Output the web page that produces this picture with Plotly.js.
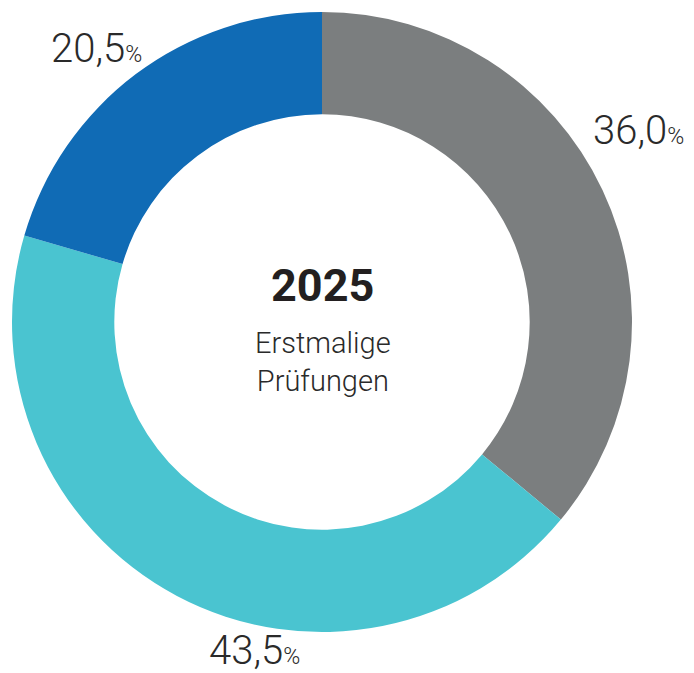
<!DOCTYPE html>
<html>
<head>
<meta charset="utf-8">
<script src="https://cdn.plot.ly/plotly-3.0.1.min.js"></script>
<style>html,body{margin:0;padding:0;background:#fff;}#chart{width:694px;height:673px;}</style>
</head>
<body>
<div id="chart"></div>
<script>
const categories = ["Kategorie A", "Kategorie B", "Kategorie C"];
const values = [36.0, 43.5, 20.5];
const colors = ["#7b7e7f", "#4ac4d0", "#106bb5"];
const centerYear = "2025";
const centerLines = ["Erstmalige", "Prüfungen"];

const W = 694, H = 673;
const px = x => x / W;
const py = y => 1 - y / H;

const labelPos = [[638, 131], [254, 650], [96, 49]];

function fmt(v) {
  return v.toFixed(1).replace('.', ',') + '<span style="font-size:23px">%</span>';
}

const annotations = values.map((v, i) => ({
  x: px(labelPos[i][0]), y: py(labelPos[i][1]), xref: 'paper', yref: 'paper',
  text: fmt(v), showarrow: false, xanchor: 'center', yanchor: 'middle',
  font: {family: 'Roboto', size: 40, color: '#2a2a2a', weight: 300}
}));
annotations.push({
  x: px(322), y: py(285), xref: 'paper', yref: 'paper', text: '<b>' + centerYear + '</b>',
  showarrow: false, xanchor: 'center', yanchor: 'middle',
  font: {family: 'Roboto', size: 45, color: '#231f20'}
});
annotations.push({
  x: px(323), y: py(362), xref: 'paper', yref: 'paper', text: centerLines.join('<br>'),
  showarrow: false, xanchor: 'center', yanchor: 'middle',
  font: {family: 'Roboto', size: 29, color: '#2a2a2a', weight: 300}
});

const data = [{
  type: 'pie', labels: categories, values: values, hole: 0.67,
  sort: false, direction: 'clockwise', rotation: 0,
  marker: {colors: colors, line: {width: 0}},
  textinfo: 'none', hoverinfo: 'none', showlegend: false,
  domain: {x: [12 / W, 632 / W], y: [1 - 632 / H, 1 - 12 / H]}
}];

const layout = {
  width: W, height: H, margin: {l: 0, r: 0, t: 0, b: 0},
  paper_bgcolor: '#fff', showlegend: false, annotations: annotations
};

Plotly.newPlot('chart', data, layout, {displayModeBar: false, staticPlot: true});
</script>
</body>
</html>
